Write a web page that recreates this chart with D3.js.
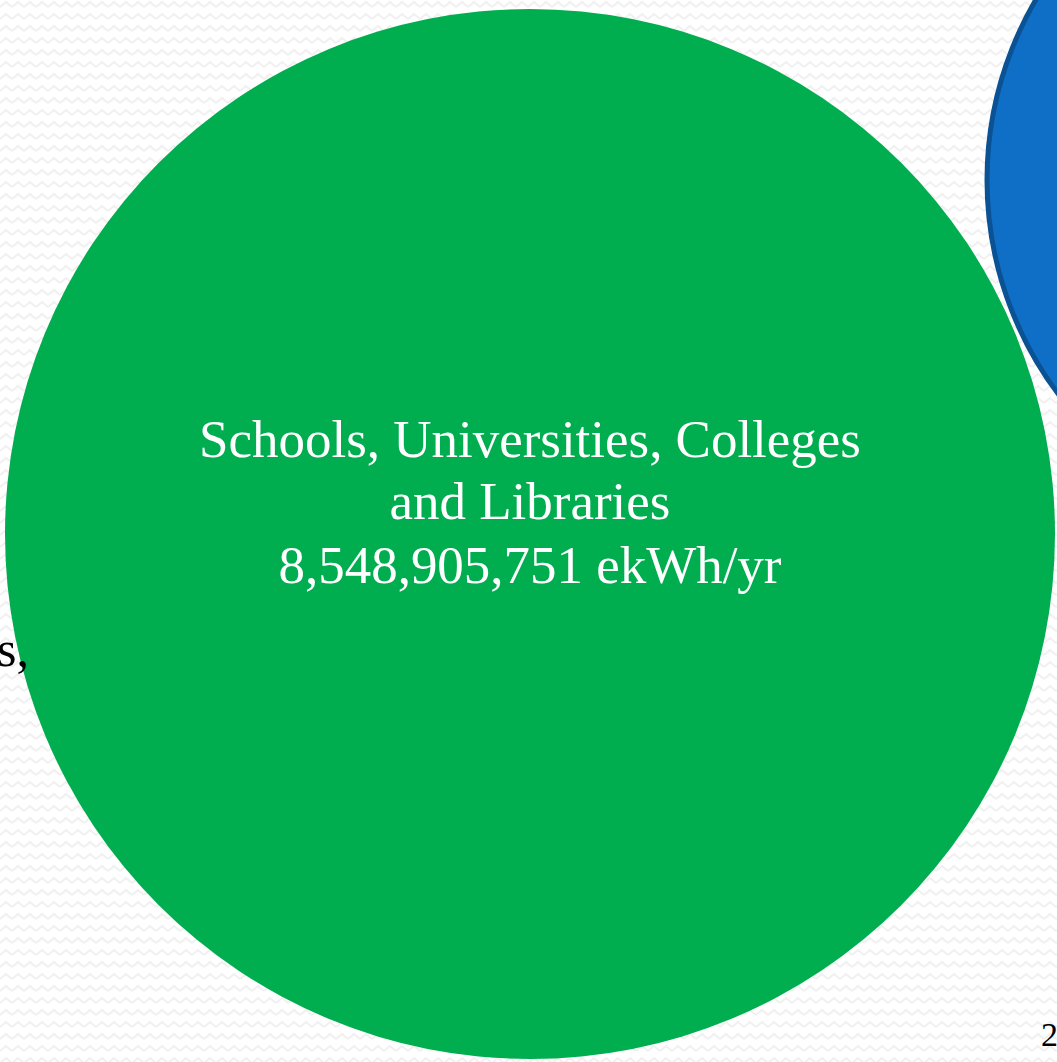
<!DOCTYPE html>
<html>
<head>
<meta charset="utf-8">
<script src="https://cdn.jsdelivr.net/npm/d3@7"></script>
<style>
html,body{margin:0;padding:0;background:#fff;overflow:hidden;}
svg{display:block;}
</style>
</head>
<body>
<svg id="chart" width="1057" height="1062"></svg>
<script>
// ---- data ----
const categories = ["Schools, Universities, Colleges and Libraries", "Other building type"];
const values = [8548905751, 3950000000];
const labelLines = [["Schools, Universities, Colleges", "and Libraries", "8,548,905,751 ekWh/yr"], []];
const fillColors = ["#00AE50", "#0F6FC6"];
const strokeColors = ["none", "#0B5294"];
const offLabel = "s,";
const slideNumber = "2";

const W = 1057, H = 1062;
const svg = d3.select("#chart");

// background zigzag pattern
const defs = svg.append("defs");
const pat = defs.append("pattern").attr("id","zz").attr("patternUnits","userSpaceOnUse")
  .attr("width",12).attr("height",12);
pat.append("rect").attr("width",12).attr("height",12).attr("fill","#ffffff");
pat.append("path").attr("d","M0,7 L6,2 L12,7").attr("fill","none")
  .attr("stroke","#f0f0f0").attr("stroke-width",2);
svg.append("rect").attr("width",W).attr("height",H).attr("fill","url(#zz)");

// radius scale (area proportional to value)
const r = d3.scaleSqrt().domain([0, values[0]]).range([0, 525]);
// layout positions for bubbles
const layout = [{x:530, y:534}, {x:987 + r(values[1]), y:180}];

const g = svg.append("g");
const bubbles = g.selectAll("g.bubble").data(values).join("g").attr("class","bubble");
bubbles.append("circle")
  .attr("cx",(d,i)=>layout[i].x).attr("cy",(d,i)=>layout[i].y)
  .attr("r",d=>r(d))
  .attr("fill",(d,i)=>fillColors[i])
  .attr("stroke",(d,i)=>strokeColors[i])
  .attr("stroke-width",5);

// label
const fontFam = "'Liberation Serif', 'DejaVu Serif', serif";
const lbl = svg.append("text").attr("text-anchor","middle")
  .attr("font-family",fontFam).attr("fill","#ffffff");
const baselines = [457, 519, 583];
labelLines[0].forEach((t,i)=>{
  lbl.append("tspan").attr("x",layout[0].x).attr("y",baselines[i]).text(t);
});
// fit font size so that the first line spans ~662px
let fs = 46;
lbl.attr("font-size",fs);
const w0 = lbl.select("tspan").node().getComputedTextLength();
fs = fs * 662 / w0;
if (fs > 56) fs = 56;
lbl.attr("font-size",fs);

svg.append("text").attr("x",-3).attr("y",666).attr("font-family",fontFam)
  .attr("font-size",50).attr("fill","#000").text(offLabel);
svg.append("text").attr("x",1041).attr("y",1046).attr("font-family",fontFam)
  .attr("font-size",34).attr("fill","#000").text(slideNumber);
</script>
</body>
</html>
